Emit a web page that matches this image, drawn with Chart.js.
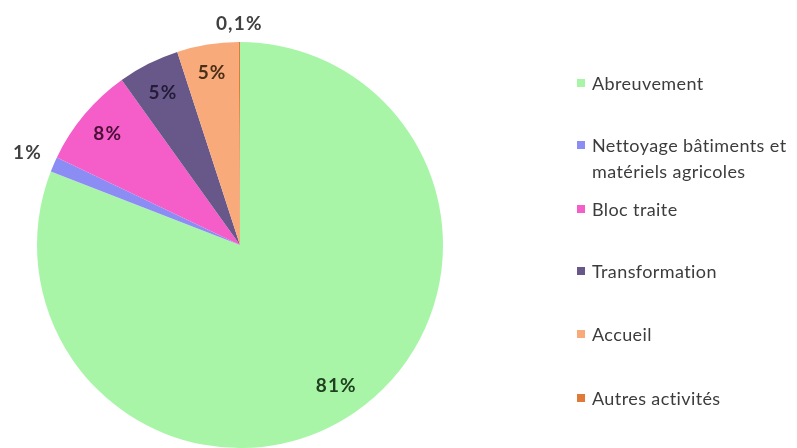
<!DOCTYPE html>
<html>
<head>
<meta charset="utf-8">
<script src="https://cdn.jsdelivr.net/npm/chart.js@4.4.1/dist/chart.umd.min.js"></script>
<style>
  html, body { margin: 0; padding: 0; background: #fff; width: 797px; height: 448px; overflow: hidden; }
  #wrap { position: absolute; left: 0; top: 0; width: 520px; height: 448px; }
  #legend { position: absolute; left: 0; top: 0; width: 797px; height: 448px; pointer-events: none;
            font-family: Lato, "Open Sans", sans-serif; font-size: 18px; letter-spacing: 0.4px; color: #3c3c3c; }
  .item { position: absolute; left: 577px; line-height: 26px; }
  .box { position: absolute; left: 0; top: 9px; width: 8px; height: 8px; }
  .txt { position: absolute; left: 15px; top: 0; white-space: nowrap; }
</style>
</head>
<body>
<div id="wrap"><canvas id="c" width="520" height="448"></canvas></div>
<div id="legend"></div>
<script>
const categories = ["Abreuvement", "Nettoyage bâtiments et\nmatériels agricoles", "Bloc traite", "Transformation", "Accueil", "Autres activités"];
const values = [80.9, 1.2, 8.0, 4.9, 4.9, 0.1];
const valueLabels = ["81%", "1%", "8%", "5%", "5%", "0,1%"];
const colors = ["#a8f5a8", "#8c8cf5", "#f55ec8", "#685889", "#f8aa7a", "#e07a38"];
const labelRadius = [0.84, 1.14, 0.85, 0.84, 0.86, 1.09];
const legendTops = [70, 132, 196, 258, 321, 385];

const labelPlugin = {
  id: 'valLabels',
  afterDatasetsDraw(chart) {
    const ctx = chart.ctx;
    const meta = chart.getDatasetMeta(0);
    ctx.save();
    ctx.font = "bold 19px Lato, 'Open Sans', sans-serif";
    ctx.letterSpacing = '1.2px';
    ctx.textAlign = 'center';
    ctx.textBaseline = 'middle';
    meta.data.forEach((arc, i) => {
      const p = arc.getProps(['x','y','startAngle','endAngle','outerRadius'], true);
      const mid = (p.startAngle + p.endAngle) / 2;
      const r = p.outerRadius * labelRadius[i];
      const x = p.x + Math.cos(mid) * r;
      const y = p.y + Math.sin(mid) * r;
      ctx.fillStyle = (labelRadius[i] > 1) ? '#404040' : (i === 0 ? '#1f3f1f' : (i === 3 ? '#241c38' : (i === 2 ? '#4a1038' : '#4a3018')));
      ctx.fillText(valueLabels[i], x, y);
    });
    ctx.restore();
  }
};

new Chart(document.getElementById('c'), {
  type: 'pie',
  data: {
    labels: categories,
    datasets: [{ data: values, backgroundColor: colors, borderWidth: 0 }]
  },
  options: {
    responsive: false,
    animation: false,
    layout: { padding: { left: 0, right: 40, top: 42, bottom: 0 } },
    plugins: { legend: { display: false }, tooltip: { enabled: false } }
  },
  plugins: [labelPlugin]
});

const lg = document.getElementById('legend');
categories.forEach((c, i) => {
  const d = document.createElement('div');
  d.className = 'item';
  d.style.top = legendTops[i] + 'px';
  const b = document.createElement('div');
  b.className = 'box';
  b.style.background = colors[i];
  const t = document.createElement('div');
  t.className = 'txt';
  t.innerHTML = c.split('\n').join('<br>');
  d.appendChild(b); d.appendChild(t);
  lg.appendChild(d);
});
</script>
</body>
</html>
